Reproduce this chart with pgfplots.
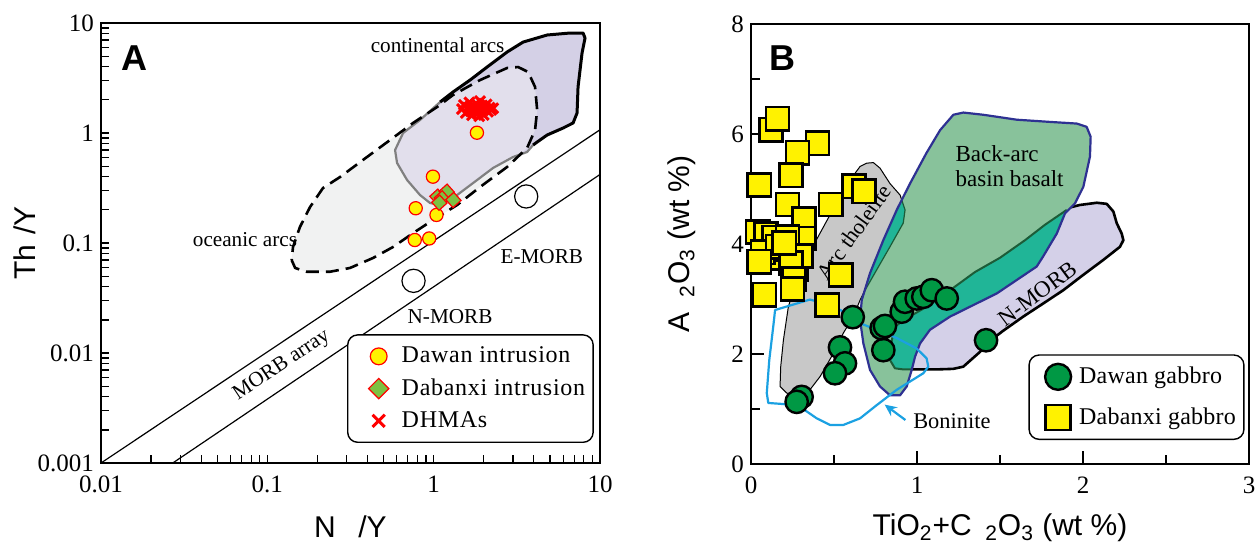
\documentclass[border=0pt]{standalone}
\usepackage{fontspec}
\setmainfont{Liberation Serif}
\newfontfamily\sansf{Liberation Sans}
\newfontfamily\legf[LetterSpace=3]{Liberation Serif}
\newfontfamily\legfb[LetterSpace=1]{Liberation Serif}
\usepackage{pgfplots}
\pgfplotsset{compat=1.18}
\usetikzlibrary{arrows.meta}
\definecolor{ocean}{HTML}{F1F2F2}
\definecolor{cont}{HTML}{D4D0E6}
\definecolor{overl}{HTML}{E2DFEC}
\definecolor{grayline}{HTML}{808080}
\definecolor{yel}{HTML}{FFF200}
\definecolor{dgreen}{HTML}{7CC242}
\definecolor{gab}{HTML}{009844}
\definecolor{bab}{HTML}{88C29B}
\definecolor{tealx}{HTML}{20B597}
\definecolor{dkgreen}{HTML}{1C5C38}
\definecolor{navyx}{HTML}{2E3192}
\definecolor{nmorb}{HTML}{D4D0E8}
\definecolor{arcgray}{HTML}{C8C8C8}
\definecolor{bon}{HTML}{1BA1E2}
\begin{document}
\begin{tikzpicture}
\useasboundingbox (0,0) rectangle (628pt,273.5pt);
%================ PANEL A ================
\begin{axis}[
 at={(50.5pt,42pt)}, anchor=south west, scale only axis, width=249.5pt, height=220pt,
 xmode=log, ymode=log, xmin=0.01, xmax=10, ymin=0.001, ymax=10,
 xtick={0.01,0.1,1,10}, xticklabels={0.01,0.1,1,10},
 ytick={0.001,0.01,0.1,1,10}, yticklabels={0.001,0.01,0.1,1,10},
 minor xtick={0.02,0.03,0.04,0.05,0.06,0.07,0.08,0.09,0.2,0.3,0.4,0.5,0.6,0.7,0.8,0.9,2,3,4,5,6,7,8,9},
 minor ytick={0.002,0.003,0.004,0.005,0.006,0.007,0.008,0.009,0.02,0.03,0.04,0.05,0.06,0.07,0.08,0.09,0.2,0.3,0.4,0.5,0.6,0.7,0.8,0.9,2,3,4,5,6,7,8,9},
 tick align=inside, xtick pos=left, ytick pos=left,
 major tick length=4pt, minor tick length=4pt,
 tick style={black, line width=0.6pt},
 axis line style={line width=0.8pt},
 tick label style={font=\fontsize{12.5}{12.5}\selectfont},
 xticklabel style={yshift=-3pt},
 label style={font=\sansf\fontsize{15}{15}\selectfont},
 xlabel={N\hspace{0.75em}/Y}, ylabel={Th\hspace{0.35em}/Y},
 xlabel style={at={(axis description cs:0.5,-0.145)}, anchor=center},
 ylabel style={at={(axis description cs:-0.152,0.5)}, anchor=center},
 clip=false,
 legend style={at={(0.493,0.0455)}, anchor=south west, draw=black, line width=0.7pt, rounded corners=5pt,
   font=\legf\fontsize{12}{14}\selectfont, inner xsep=2pt, inner ysep=4pt, row sep=2.5pt},
 legend cell align=left,
 legend image code/.code={\path[draw=none, fill=none] (0pt,-1pt) rectangle (23pt,1pt); \draw[#1] plot coordinates {(13.5pt,0pt)};},
]
% oceanic arcs fill
\addplot[forget plot, draw=none, fill=ocean] coordinates {
(0.140,0.0700) (0.147,0.0593) (0.1726,0.0548) (0.238,0.0548) (0.314,0.0593) (0.432,0.0731)
(0.570,0.0920) (0.752,0.123) (0.992,0.162) (1.383,0.2215) (1.901,0.323) (2.763,0.491)
(3.645,0.731) (4.07,1.065) (4.19,1.618) (4.07,2.62) (3.70,3.585) (3.22,3.98) (2.763,3.90)
(1.901,3.03) (1.308,2.216) (1.048,1.722) (0.752,1.233) (0.547,0.864) (0.376,0.569)
(0.2735,0.398) (0.216,0.316) (0.1807,0.2125) (0.157,0.1398) (0.1427,0.092)} -- cycle;
% continental arcs fill
\addplot[forget plot, draw=none, fill=cont] coordinates {
(1.093,1.913) (1.308,2.36) (1.655,3.03) (2.095,3.98) (2.763,5.45) (3.45,6.71) (4.81,7.78)
(6.61,8.11) (7.91,8.11) (8.13,7.31) (7.80,5.34) (7.38,2.62) (7.28,1.52) (6.89,1.233)
(6.00,1.11) (4.81,0.959) (4.19,0.828) (3.96,0.778) (3.645,0.672) (3.00,0.605) (2.275,0.481)
(1.726,0.351) (1.308,0.2565) (1.093,0.2215) (0.9515,0.231) (0.828,0.273) (0.692,0.374)
(0.6025,0.534) (0.586,0.70) (0.655,1.0) (0.828,1.313)} -- cycle;
% overlap
\addplot[forget plot, draw=none, fill=overl] coordinates {
(3.31,0.644) (3.00,0.605) (2.275,0.481) (1.726,0.351) (1.308,0.2565) (1.093,0.2215)
(0.9515,0.231) (0.828,0.273) (0.692,0.374) (0.6025,0.534) (0.586,0.70) (0.655,1.0)
(0.828,1.313) (0.9515,1.552) (1.048,1.722) (1.308,2.216) (1.901,3.03) (2.763,3.90)
(3.22,3.98) (3.70,3.585) (4.07,2.62) (4.19,1.618) (4.07,1.065) (3.645,0.731)} -- cycle;
% gray boundary
\addplot[forget plot, grayline, line width=1.1pt, line join=round] coordinates {
(3.96,0.778) (3.645,0.672) (3.00,0.605) (2.275,0.481) (1.726,0.351) (1.308,0.2565) (1.093,0.2215)
(0.9515,0.231) (0.828,0.273) (0.692,0.374) (0.6025,0.534) (0.586,0.70) (0.655,1.0)
(0.828,1.313) (1.093,1.913)};
% black boundary
\addplot[forget plot, black, line width=1.5pt, line join=round] coordinates {
(1.093,1.913) (1.308,2.36) (1.655,3.03) (2.095,3.98) (2.763,5.45) (3.45,6.71) (4.81,7.78)
(6.61,8.11) (7.91,8.11) (8.13,7.31) (7.80,5.34) (7.38,2.62) (7.28,1.52) (6.89,1.233)
(6.00,1.11) (4.81,0.959) (4.19,0.828) (3.96,0.778)};
% dashed oceanic boundary
\addplot[forget plot, black, line width=1.3pt, dash pattern=on 6.5pt off 3.5pt, line join=round] coordinates {
(0.140,0.0700) (0.147,0.0593) (0.1726,0.0548) (0.238,0.0548) (0.314,0.0593) (0.432,0.0731)
(0.570,0.0920) (0.752,0.123) (0.992,0.162) (1.383,0.2215) (1.901,0.323) (2.763,0.491)
(3.645,0.731) (4.07,1.065) (4.19,1.618) (4.07,2.62) (3.70,3.585) (3.22,3.98) (2.763,3.90)
(1.901,3.03) (1.308,2.216) (1.048,1.722) (0.752,1.233) (0.547,0.864) (0.376,0.569)
(0.2735,0.398) (0.216,0.316) (0.1807,0.2125) (0.157,0.1398) (0.1427,0.092)} -- cycle;
% MORB array lines
\addplot[forget plot, black, line width=0.6pt] coordinates {(0.01,0.001) (10,1.07)};
\addplot[forget plot, black, line width=0.6pt] coordinates {(0.027,0.001) (10,0.42)};
% N-MORB / E-MORB
\addplot[forget plot, only marks, mark=o, mark size=5.8pt, mark options={black, line width=0.6pt}] coordinates {(3.6,0.265) (0.757,0.0453)};
% labels
\node[font=\fontsize{10.6}{12}\selectfont] at (axis cs:1.056,6.31) {continental arcs};
\node[font=\fontsize{10.6}{12}\selectfont] at (axis cs:0.0734,0.1065) {oceanic arcs};
\node[font=\fontsize{10.6}{12}\selectfont] at (axis cs:4.47,0.0751) {E-MORB};
\node[font=\fontsize{10.6}{12}\selectfont] at (axis cs:1.255,0.0215) {N-MORB};
\node[font=\fontsize{10.6}{12}\selectfont, rotate=33.7] at (axis cs:0.122,0.0077) {MORB array};
\node[font=\sansf\bfseries\fontsize{18}{18}\selectfont] at (rel axis cs:0.068,0.921) {A};
% data
\addplot[only marks, mark=*, mark size=3.3pt, mark options={fill=yel, draw=red, line width=0.6pt},
  legend image post style={mark size=4.2pt}] coordinates {
(1.82,1.006) (0.99,0.401) (0.78,0.207) (1.04,0.180) (0.77,0.1065) (0.94,0.110)};
\addlegendentry{Dawan intrusion}
\addplot[only marks, mark=square*, mark size=2.7pt, mark options={fill=dgreen, draw=red, line width=0.6pt, rotate=42},
  legend image post style={mark size=3.6pt, mark options={fill=dgreen, draw=red, line width=0.6pt, rotate=45}}] coordinates {
(1.053,0.2636) (1.198,0.2926) (1.119,0.2547) (1.082,0.2325) (1.314,0.246)};
\addlegendentry{Dabanxi intrusion}
\addplot[only marks, mark=x, mark size=3.5pt, mark options={red, line width=1.5pt},
  legend image post style={mark size=4.3pt}] coordinates {
(1.48,1.65) (1.52,1.80) (1.56,1.52) (1.60,1.70) (1.64,1.90) (1.67,1.58) (1.70,1.45) (1.73,1.75)
(1.76,1.62) (1.80,1.85) (1.83,1.50) (1.86,1.68) (1.90,1.95) (1.93,1.58) (1.96,1.78) (2.00,1.46)
(2.04,1.66) (2.08,1.82) (2.12,1.56) (2.17,1.70) (2.22,1.62) (2.28,1.68) (1.88,1.42) (1.78,1.72)};
\addlegendentry{DHMAs}
\end{axis}
%================ PANEL B ================
\begin{axis}[
 at={(375.5pt,41.5pt)}, anchor=south west, scale only axis, width=249pt, height=220pt,
 xmin=0, xmax=3, ymin=0, ymax=8,
 xtick={0,1,2,3}, xticklabels={0,1,2,3}, minor xtick={0.5,1.5,2.5},
 ytick={0,2,4,6,8}, yticklabels={0,2,4,6,8}, minor ytick={1,3,5,7},
 tick align=inside, xtick pos=left, ytick pos=left,
 major tick length=6.5pt, minor tick length=4.5pt,
 tick style={black, line width=0.8pt},
 axis line style={line width=1.4pt},
 tick label style={font=\fontsize{12.5}{12.5}\selectfont},
 xticklabel style={yshift=-3pt},
 label style={font=\sansf\fontsize{15}{15}\selectfont},
 xlabel={TiO\textsubscript{2}+C\hspace{0.45em}\textsubscript{2}O\textsubscript{3} (wt \%)},
 ylabel={A\hspace{0.5em}\textsubscript{2}O\textsubscript{3} (wt \%)},
 xlabel style={at={(axis description cs:0.5,-0.145)}, anchor=center},
 ylabel style={at={(axis description cs:-0.139,0.5)}, anchor=center},
 clip=false,
 legend style={at={(0.557,0.0545)}, anchor=south west, draw=black, line width=0.7pt, rounded corners=5pt,
   font=\legfb\fontsize{12}{14}\selectfont, inner xsep=2pt, inner ysep=4pt, row sep=6.5pt},
 legend cell align=left,
 legend image code/.code={\path[draw=none, fill=none] (0pt,-1pt) rectangle (21pt,1pt); \draw[#1] plot coordinates {(12.5pt,0pt)};},
]
% arc tholeiite
\addplot[forget plot, fill=arcgray, draw=black, line width=0.5pt, line join=round] coordinates {
(0.657,5.41) (0.697,5.47) (0.737,5.48) (0.777,5.38) (0.837,5.10) (0.898,4.89) (0.928,4.62)
(0.917,4.38) (0.837,3.95) (0.757,3.53) (0.687,3.16) (0.657,2.98) (0.616,2.68) (0.556,2.38)
(0.496,2.01) (0.416,1.59) (0.355,1.35) (0.295,1.22) (0.215,1.29) (0.175,1.41) (0.179,1.77)
(0.195,2.25) (0.225,2.86) (0.295,3.53) (0.476,4.53) (0.596,5.16)} -- cycle;
% N-MORB
\addplot[forget plot, fill=nmorb, draw=black, line width=1.3pt, line join=round] coordinates {
(1.902,4.65) (1.982,4.71) (2.083,4.75) (2.143,4.73) (2.183,4.59) (2.203,4.38) (2.233,4.19)
(2.243,4.07) (2.223,3.95) (2.122,3.71) (2.002,3.44) (1.881,3.16) (1.761,2.92) (1.640,2.68)
(1.518,2.42) (1.440,2.24) (1.380,2.04) (1.279,1.77) (1.219,1.73) (1.119,1.72) (1.018,1.72)
(0.917,1.72) (0.867,1.74) (0.837,1.89) (0.848,2.25) (0.867,2.50) (0.938,2.65) (1.058,2.86)
(1.199,3.16) (1.349,3.49) (1.500,3.75) (1.651,4.07) (1.771,4.35) (1.902,4.62)} -- cycle;
% back-arc fill
\addplot[forget plot, fill=bab, draw=none] coordinates {
(0.667,2.98) (0.717,3.47) (0.797,4.07) (0.878,4.62) (0.958,5.10) (1.056,5.65) (1.139,6.07)
(1.219,6.35) (1.279,6.39) (1.399,6.35) (1.601,6.26) (1.801,6.22) (1.962,6.19) (2.022,6.13)
(2.046,5.95) (2.042,5.59) (2.002,5.04) (1.952,4.74) (1.892,4.56) (1.842,4.19) (1.759,3.77)
(1.721,3.59) (1.480,3.10) (1.199,2.68) (1.078,2.44) (1.018,2.19) (0.988,1.95) (0.968,1.71)
(0.938,1.41) (0.898,1.25) (0.837,1.25) (0.777,1.41) (0.717,1.71) (0.677,2.19) (0.657,2.62)} -- cycle;
% overlap arc tholeiite / back-arc
\addplot[forget plot, fill=tealx, draw=none] coordinates {
(0.908,4.80) (0.928,4.62) (0.917,4.38) (0.837,3.95) (0.757,3.53) (0.687,3.16) (0.663,2.98)
(0.717,3.47) (0.797,4.07) (0.878,4.62)} -- cycle;
\addplot[forget plot, dkgreen, line width=0.6pt, line join=round] coordinates {
(0.908,4.80) (0.928,4.62) (0.917,4.38) (0.837,3.95) (0.757,3.53) (0.687,3.16) (0.663,2.98)};
% overlap N-MORB / back-arc
\addplot[forget plot, fill=tealx, draw=none] coordinates {
(0.867,1.74) (0.837,1.89) (0.848,2.25) (0.867,2.50) (0.938,2.65) (1.058,2.86) (1.199,3.16)
(1.349,3.49) (1.500,3.75) (1.651,4.07) (1.771,4.35) (1.902,4.62) (1.892,4.56) (1.842,4.19)
(1.759,3.77) (1.721,3.59) (1.480,3.10) (1.199,2.68) (1.078,2.44) (1.018,2.19) (0.988,1.95)
(0.968,1.72) (0.917,1.72)} -- cycle;
\addplot[forget plot, dkgreen, line width=1.0pt, line join=round] coordinates {
(0.968,1.72) (0.917,1.72) (0.867,1.74) (0.837,1.89) (0.848,2.25) (0.867,2.50) (0.938,2.65)
(1.058,2.86) (1.199,3.16) (1.349,3.49) (1.500,3.75) (1.651,4.07) (1.771,4.35) (1.902,4.62)};
% back-arc outline
\addplot[forget plot, navyx, line width=1.1pt, line join=round] coordinates {
(0.667,2.98) (0.717,3.47) (0.797,4.07) (0.878,4.62) (0.958,5.10) (1.056,5.65) (1.139,6.07)
(1.219,6.35) (1.279,6.39) (1.399,6.35) (1.601,6.26) (1.801,6.22) (1.962,6.19) (2.022,6.13)
(2.046,5.95) (2.042,5.59) (2.002,5.04) (1.952,4.74) (1.892,4.56) (1.842,4.19) (1.759,3.77)
(1.721,3.59) (1.480,3.10) (1.199,2.68) (1.078,2.44) (1.018,2.19) (0.988,1.95) (0.968,1.71)
(0.938,1.41) (0.898,1.25) (0.837,1.25) (0.777,1.41) (0.717,1.71) (0.677,2.19) (0.657,2.62)} -- cycle;
% boninite
\addplot[forget plot, bon, line width=1.1pt, line join=round] coordinates {
(0.355,2.99) (0.476,2.89) (0.577,2.74) (0.657,2.56) (0.757,2.44) (0.878,2.29) (0.998,2.10)
(1.058,1.92) (1.068,1.77) (1.038,1.65) (0.958,1.50) (0.878,1.35) (0.757,1.07) (0.657,0.83)
(0.556,0.71) (0.476,0.71) (0.396,0.83) (0.295,1.04) (0.195,1.09) (0.104,1.11) (0.095,1.29)
(0.110,1.89) (0.134,2.50) (0.145,2.80)} -- cycle;
\addplot[forget plot, bon, line width=1.1pt, -{Stealth[length=6pt,width=5.5pt]}] coordinates {(0.93,0.80) (0.805,1.08)};
% labels
\node[font=\fontsize{11.2}{12}\selectfont, anchor=west] at (axis cs:0.935,0.78) {Boninite};
\node[font=\fontsize{11.5}{12.5}\selectfont, anchor=west, align=left] at (axis cs:1.19,5.42) {Back-arc\\basin basalt};
\node[font=\fontsize{11.5}{12}\selectfont, rotate=36.7] at (axis cs:1.726,3.10) {N-MORB};
\node[font=\fontsize{11}{12}\selectfont, rotate=54] at (axis cs:0.62,4.22) {Arc tholeiite};
\node[font=\sansf\bfseries\fontsize{18}{18}\selectfont] at (rel axis cs:0.063,0.923) {B};
% data
\addplot[only marks, mark=*, mark size=5.6pt, mark options={fill=gab, draw=black, line width=1.2pt},
  legend image post style={mark size=6.5pt}] coordinates {
(0.613,2.67) (0.536,2.12) (0.566,1.83) (0.506,1.65) (0.305,1.22) (0.275,1.13) (0.797,2.07)
(0.787,2.47) (0.807,2.51) (0.908,2.77) (0.928,2.95) (0.998,3.01) (1.038,3.04) (1.089,3.16)
(1.179,3.01) (1.416,2.25)};
\addlegendentry{Dawan gabbro}
\addplot[only marks, mark=square*, mark size=5.8pt, mark options={fill=yel, draw=black, line width=1.3pt},
  legend image post style={mark size=6.2pt}] coordinates {
(0.12,6.08) (0.16,6.28) (0.40,5.83) (0.28,5.66) (0.24,5.25) (0.05,5.07) (0.62,5.05) (0.68,4.96)
(0.22,4.72) (0.48,4.72) (0.32,4.45) (0.04,4.22) (0.09,4.18) (0.14,4.12) (0.32,4.10) (0.22,4.13)
(0.27,3.55) (0.12,3.75) (0.18,3.90) (0.07,3.85) (0.16,3.95) (0.30,3.78) (0.24,3.65) (0.05,3.68)
(0.20,4.02) (0.26,3.36) (0.54,3.44) (0.25,3.18) (0.08,3.08) (0.46,2.89)};
\addlegendentry{Dabanxi gabbro}
\end{axis}
\end{tikzpicture}
\end{document}
